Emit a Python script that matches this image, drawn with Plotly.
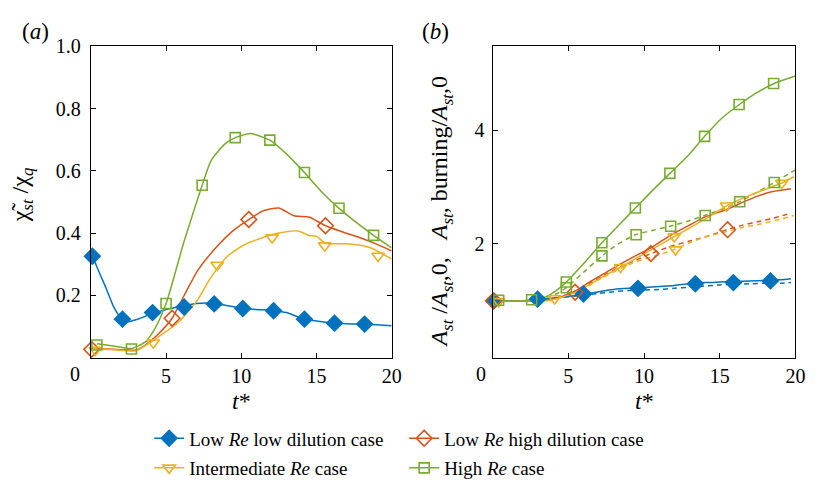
import plotly.graph_objects as go

FONT = "Liberation Serif"
C_BLUE, C_ORANGE, C_YELLOW, C_GREEN = "#0072BD", "#D95319", "#EDB120", "#77AC30"

# ---------------- panel (a): chi_st / chi_q ----------------
a_blue_t = [0.1, 0.5, 1.0, 1.5, 2.0, 2.4, 3.0, 4.0, 5.0, 6.0, 7.0, 8.0, 9.0, 10.0, 11.0, 12.0, 13.0, 14.0, 15.0, 16.0, 17.0, 18.0, 19.0, 20.0]
a_blue_y = [0.326, 0.28, 0.225, 0.165, 0.128, 0.115, 0.122, 0.14, 0.155, 0.165, 0.174, 0.175, 0.168, 0.16, 0.155, 0.152, 0.145, 0.127, 0.118, 0.112, 0.109, 0.108, 0.106, 0.103]
a_blue_mt = [0.1, 2.1, 4.1, 6.2, 8.2, 10.1, 12.15, 14.2, 16.2, 18.2]
a_blue_my = [0.326, 0.124, 0.145, 0.163, 0.173, 0.158, 0.151, 0.124, 0.111, 0.108]

a_orange_t = [0.0, 1.0, 2.0, 3.0, 3.6, 4.5, 5.4, 6.2, 7.1, 8.4, 9.5, 10.5, 11.5, 12.5, 13.5, 14.5, 15.6, 16.7, 18.0, 19.0, 20.0]
a_orange_y = [0.03, 0.028, 0.026, 0.025, 0.04, 0.077, 0.127, 0.2, 0.28, 0.358, 0.41, 0.444, 0.473, 0.481, 0.456, 0.452, 0.424, 0.405, 0.384, 0.365, 0.343]
a_orange_mt = [0.05, 5.4, 10.5, 15.6]
a_orange_my = [0.027, 0.127, 0.444, 0.424]

a_yellow_t = [0.1, 1.0, 2.0, 3.0, 3.6, 4.5, 5.8, 7.1, 8.0, 9.1, 10.2, 12.0, 13.0, 13.8, 14.5, 15.0, 15.6, 17.0, 18.5, 20.0]
a_yellow_y = [0.03, 0.027, 0.024, 0.022, 0.038, 0.067, 0.113, 0.186, 0.26, 0.327, 0.363, 0.395, 0.405, 0.407, 0.393, 0.39, 0.368, 0.366, 0.355, 0.317]
a_yellow_mt = [0.3, 4.15, 8.4, 12.05, 15.55, 19.1]
a_yellow_my = [0.025, 0.048, 0.298, 0.386, 0.36, 0.327]

a_green_t = [0.4, 1.5, 2.7, 3.6, 4.25, 5.0, 6.2, 7.4, 8.0, 8.9, 9.6, 10.6, 11.9, 13.0, 14.2, 15.4, 16.5, 18.8, 20.0]
a_green_y = [0.045, 0.038, 0.03, 0.05, 0.093, 0.174, 0.374, 0.554, 0.634, 0.686, 0.707, 0.72, 0.699, 0.655, 0.595, 0.53, 0.48, 0.393, 0.353]
a_green_mt = [0.4, 2.7, 5.0, 7.4, 9.6, 11.9, 14.2, 16.5, 18.8]
a_green_my = [0.041, 0.028, 0.174, 0.554, 0.707, 0.699, 0.595, 0.48, 0.393]

# ---------------- panel (b): area ratios ----------------
b_blue_t = [0, 1, 2, 3, 4, 5, 6, 7, 8, 9, 10, 11, 12, 13, 14, 15, 16, 17, 18, 19, 19.7]
b_blue_y = [1.0, 1.0, 1.0, 1.02, 1.05, 1.08, 1.11, 1.16, 1.2, 1.22, 1.23, 1.25, 1.27, 1.3, 1.32, 1.33, 1.34, 1.35, 1.36, 1.37, 1.39]
b_blue_dy = [1.0, 1.0, 1.0, 1.02, 1.04, 1.07, 1.1, 1.13, 1.16, 1.18, 1.19, 1.2, 1.22, 1.24, 1.26, 1.28, 1.29, 1.3, 1.31, 1.31, 1.32]
b_blue_mt = [0.08, 2.97, 6.0, 9.6, 13.39, 15.9, 18.35]
b_blue_my = [1.0, 1.03, 1.12, 1.22, 1.3, 1.32, 1.35]

b_orange_t = [0, 1, 2, 3, 3.5, 4.5, 5.5, 6.4, 7.5, 8.45, 9.5, 10.45, 11.8, 13.0, 14.0, 15.5, 16.5, 17.5, 18.5, 19.7]
b_orange_y = [1.0, 1.0, 1.0, 1.0, 1.01, 1.07, 1.18, 1.33, 1.5, 1.65, 1.8, 1.93, 2.16, 2.33, 2.47, 2.61, 2.73, 2.84, 2.92, 2.97]
b_orange_dy = [1.0, 1.0, 1.0, 1.0, 1.01, 1.07, 1.17, 1.31, 1.47, 1.6, 1.72, 1.83, 1.96, 2.05, 2.12, 2.25, 2.33, 2.39, 2.45, 2.54]
b_orange_mt = [0.05, 5.45, 10.45, 15.52]
b_orange_my = [1.0, 1.15, 1.83, 2.25]

b_yellow_t = [0, 1, 2, 3, 3.5, 4.1, 5.0, 6.0, 7.0, 8.45, 9.5, 10.5, 12.0, 13.0, 14.0, 15.45, 16.5, 17.7, 19.1, 19.9]
b_yellow_y = [1.0, 1.0, 1.0, 1.0, 1.0, 1.03, 1.1, 1.22, 1.38, 1.59, 1.75, 1.9, 2.13, 2.28, 2.43, 2.67, 2.8, 2.93, 3.07, 3.18]
b_yellow_dy = [1.0, 1.0, 1.0, 1.0, 1.0, 1.03, 1.1, 1.21, 1.37, 1.57, 1.69, 1.77, 1.9, 2.02, 2.12, 2.22, 2.29, 2.35, 2.44, 2.5]
b_yellow_mt = [0.4, 4.1, 8.45, 12.0, 15.45, 19.1]
b_yellow_my = [0.99, 1.04, 1.59, 2.13, 2.67, 3.07]
b_yellow_dmt = [12.08]
b_yellow_dmy = [1.9]

b_green_t = [0, 1, 2, 2.6, 3.5, 4.2, 4.87, 6.0, 7.22, 8.3, 9.43, 10.6, 11.71, 12.9, 14.0, 15.1, 16.3, 17.4, 18.6, 20.0]
b_green_y = [1.0, 1.0, 1.0, 1.02, 1.07, 1.18, 1.33, 1.65, 2.02, 2.32, 2.63, 2.95, 3.24, 3.55, 3.89, 4.2, 4.45, 4.65, 4.82, 4.95]
b_green_dy = [1.0, 1.0, 1.0, 1.02, 1.06, 1.12, 1.23, 1.5, 1.79, 2.0, 2.16, 2.24, 2.31, 2.4, 2.5, 2.6, 2.74, 2.9, 3.08, 3.3]
b_green_mt = [0.4, 2.58, 4.87, 7.22, 9.43, 11.71, 14.0, 16.28, 18.56]
b_green_my = [1.01, 1.02, 1.33, 2.02, 2.63, 3.24, 3.89, 4.45, 4.82]
b_green_dmt = [4.87, 7.22, 9.48, 11.76, 14.04, 16.32, 18.6]
b_green_dmy = [1.23, 1.79, 2.16, 2.31, 2.5, 2.74, 3.08]

legend_names = ["Low <i>Re</i> low dilution case", "Low <i>Re</i> high dilution case",
                "Intermediate <i>Re</i> case", "High <i>Re</i> case"]

STY = {
    "blue": dict(color=C_BLUE, symbol="diamond", size=12),
    "orange": dict(color=C_ORANGE, symbol="diamond-open", size=12),
    "yellow": dict(color=C_YELLOW, symbol="triangle-down-open", size=11),
    "green": dict(color=C_GREEN, symbol="square-open", size=10),
}

fig = go.Figure()


def line(t, y, key, xa, ya, dash="solid"):
    fig.add_trace(go.Scatter(x=t, y=y, xaxis=xa, yaxis=ya, mode="lines",
                             line=dict(color=STY[key]["color"], width=1.5, dash=dash, shape="spline", smoothing=0.6),
                             showlegend=False, hoverinfo="skip", cliponaxis=True))


def marks(t, y, key, xa, ya):
    s = STY[key]
    fig.add_trace(go.Scatter(x=t, y=y, xaxis=xa, yaxis=ya, mode="markers",
                             marker=dict(color=s["color"], symbol=s["symbol"], size=s["size"],
                                         line=dict(color=s["color"], width=1.6)),
                             showlegend=False, cliponaxis=False))


# panel a
line(a_blue_t, a_blue_y, "blue", "x", "y")
line(a_orange_t, a_orange_y, "orange", "x", "y")
line(a_yellow_t, a_yellow_y, "yellow", "x", "y")
line(a_green_t, a_green_y, "green", "x", "y")
marks(a_blue_mt, a_blue_my, "blue", "x", "y")
marks(a_orange_mt, a_orange_my, "orange", "x", "y")
marks(a_yellow_mt, a_yellow_my, "yellow", "x", "y")
marks(a_green_mt, a_green_my, "green", "x", "y")

# panel b
dash = "5px,4px"
line(b_blue_t, b_blue_dy, "blue", "x2", "y2", dash)
line(b_orange_t, b_orange_dy, "orange", "x2", "y2", dash)
line(b_yellow_t, b_yellow_dy, "yellow", "x2", "y2", dash)
line(b_green_t, b_green_dy, "green", "x2", "y2", dash)
line(b_blue_t, b_blue_y, "blue", "x2", "y2")
line(b_orange_t, b_orange_y, "orange", "x2", "y2")
line(b_yellow_t, b_yellow_y, "yellow", "x2", "y2")
line(b_green_t, b_green_y, "green", "x2", "y2")
marks(b_blue_mt, b_blue_my, "blue", "x2", "y2")
marks(b_orange_mt, b_orange_my, "orange", "x2", "y2")
marks(b_yellow_mt, b_yellow_my, "yellow", "x2", "y2")
marks(b_yellow_dmt, b_yellow_dmy, "yellow", "x2", "y2")
marks(b_green_mt, b_green_my, "green", "x2", "y2")
marks(b_green_dmt, b_green_dmy, "green", "x2", "y2")

# legend entries
for name, key, lg in zip(legend_names, ["blue", "orange", "yellow", "green"],
                         ["legend", "legend", "legend2", "legend2"]):
    s = STY[key]
    fig.add_trace(go.Scatter(x=[None], y=[None], mode="lines+markers", name=name, legend=lg,
                             line=dict(color=s["color"], width=1.5),
                             marker=dict(color=s["color"], symbol=s["symbol"], size=s["size"],
                                         line=dict(color=s["color"], width=1.6))))

W, H = 816, 487
ydom = [(H - 357) / H, (H - 36.5) / H]
axis_common = dict(showline=True, linecolor="black", linewidth=1, mirror="ticks", ticks="inside",
                   ticklen=5, tickcolor="black", showgrid=False, zeroline=False,
                   tickfont=dict(family=FONT, size=20, color="black"))

leg_common = dict(orientation="h", x=151 / W, xanchor="left", yanchor="middle",
                  entrywidth=210, entrywidthmode="pixels", bgcolor="rgba(0,0,0,0)",
                  font=dict(family=FONT, size=19, color="black"))

fig.update_layout(
    width=W, height=H, margin=dict(l=0, r=0, t=0, b=0),
    paper_bgcolor="white", plot_bgcolor="white",
    font=dict(family=FONT, color="black"),
    xaxis=dict(domain=[92 / W, 396.5 / W], range=[0, 20], tickvals=[5, 10, 15, 20], anchor="y", **axis_common),
    yaxis=dict(domain=ydom, range=[0, 1], tickvals=[0.2, 0.4, 0.6, 0.8, 1.0], ticklabelstandoff=5,
               ticktext=["0.2", "0.4", "0.6", "0.8", "1.0"], anchor="x", **axis_common),
    xaxis2=dict(domain=[498.7 / W, 805.3 / W], range=[0, 20], tickvals=[5, 10, 15, 20], anchor="y2", **axis_common),
    yaxis2=dict(domain=ydom, range=[0, 5.47], tickvals=[2, 4], anchor="x2", ticklabelstandoff=3, **axis_common),
    legend=dict(y=(H - 440) / H, **leg_common),
    legend2=dict(y=(H - 471) / H, **leg_common),
)

ann = dict(showarrow=False, font=dict(family=FONT, size=20, color="black"))
fig.add_annotation(x=0, y=0, xref="x", yref="y", text="0", xshift=-16, yshift=-16, yanchor="middle", **ann)
fig.add_annotation(x=0, y=0, xref="x2", yref="y2", text="0", xshift=-12, yshift=-16, yanchor="middle", **ann)
fig.add_annotation(x=36 / W, y=(H - 21) / H, xref="paper", yref="paper", text="(<i>a</i>)",
                   xanchor="center", yanchor="middle",
                   **{**ann, "font": dict(family=FONT, size=23, color="black")})
fig.add_annotation(x=441 / W, y=(H - 21) / H, xref="paper", yref="paper", text="(<i>b</i>)",
                   xanchor="center", yanchor="middle",
                   **{**ann, "font": dict(family=FONT, size=23, color="black")})
fig.add_annotation(x=10, y=(H - 402) / H, xref="x", yref="paper", text="<i>t</i>*", yanchor="middle",
                   **{**ann, "font": dict(family=FONT, size=24, color="black")})
fig.add_annotation(x=10, y=(H - 402) / H, xref="x2", yref="paper", text="<i>t</i>*", yanchor="middle",
                   **{**ann, "font": dict(family=FONT, size=24, color="black")})
fig.add_annotation(x=22 / W, y=(H - 189) / H, xref="paper", yref="paper", textangle=-90,
                   xanchor="center", yanchor="middle",
                   text="χ\u0303<sub><i>st</i></sub> /χ<sub><i>q</i></sub>",
                   **{**ann, "font": dict(family=FONT, size=24, color="black")})
fig.add_annotation(x=447 / W, y=(H - 207) / H, xref="paper", yref="paper", textangle=-90,
                   xanchor="center", yanchor="middle",
                   text="<i>A<sub>st</sub></i> /<i>A<sub>st</sub></i>,0,   <i>A<sub>st</sub></i>, burning/<i>A<sub>st</sub></i>,0",
                   **{**ann, "font": dict(family=FONT, size=24, color="black")})

fig.write_html("out.html")
